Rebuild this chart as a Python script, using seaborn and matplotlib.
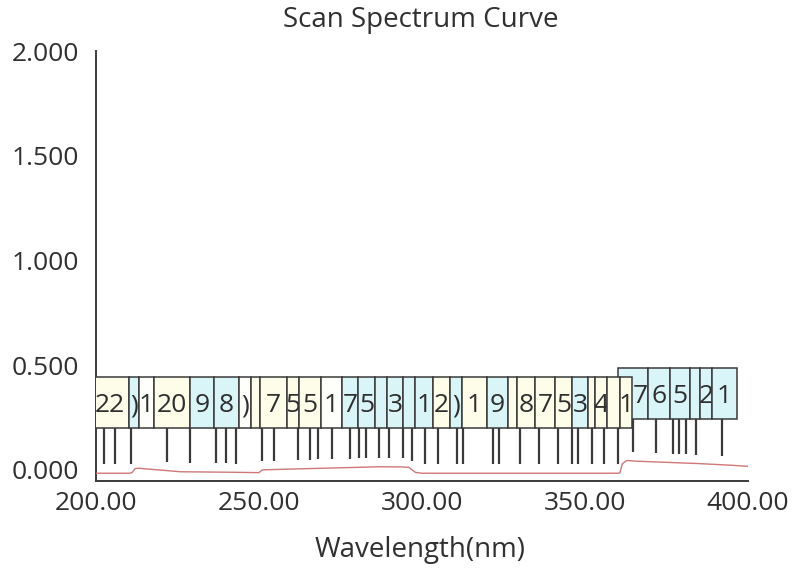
import matplotlib
matplotlib.use("Agg")
import matplotlib.pyplot as plt
import seaborn as sns
import pandas as pd
import numpy as np

# ---------------- data ----------------
wavelength = [200, 205, 210, 211, 212, 213, 216, 226, 240, 249, 250, 251, 260, 270,
              280, 287, 294, 296, 298, 300, 310, 320, 330, 340, 350, 360, 360.7,
              361.5, 362.9, 365, 370, 375, 380, 385, 390, 395, 400]
absorbance = [-0.016, -0.016, -0.016, -0.014, 0.006, 0.008, 0.004, -0.009, -0.011,
              -0.013, -0.013, 0.0, 0.004, 0.008, 0.012, 0.015, 0.014, 0.012, -0.012,
              -0.016, -0.016, -0.016, -0.016, -0.016, -0.016, -0.016, -0.015,
              0.030, 0.045, 0.042, 0.039, 0.036, 0.033, 0.030, 0.026, 0.022, 0.017]

peak_nm = [202.5, 205.8, 210.7, 221.9, 228.8, 236.8, 239.8, 242.9, 251.0, 254.7,
           261.9, 265.6, 268.0, 272.5, 277.9, 280.8, 282.9, 286.9, 289.9, 294.3,
           297.0, 300.9, 305.0, 310.6, 312.5, 321.7, 323.7, 330.1, 336.0, 341.6,
           346.1, 347.9, 352.1, 355.9, 360.0, 364.8, 371.8, 377.1, 378.9, 381.0,
           384.0, 391.9]
peak_abs = [-0.016, -0.016, -0.016, -0.005, -0.009, -0.011, -0.011, -0.012, 0.0, 0.002,
            0.005, 0.007, 0.008, 0.010, 0.012, 0.013, 0.013, 0.015, 0.015, 0.014,
            0.0, -0.016, -0.016, -0.016, -0.016, -0.016, -0.016, -0.016, -0.016, -0.016,
            -0.016, -0.016, -0.016, -0.016, -0.016, 0.042, 0.038, 0.035, 0.034, 0.033,
            0.031, 0.025]

# label boxes (visible parts): text, left/right edge in nm, colour key, row
box_text = ["22", ")", "1", "20", "9", "8", ")", "", "7", "5", "5", "1", "7", "5", "",
            "3", "", "1",
            "2", ")", "1", "9", "", "8", "7", "5", "3", "", "4", "", "1",
            "7", "6", "5", "", "2", "1"]
box_left = [198.2, 210.1, 213.2, 217.8, 228.8, 236.2, 243.9, 247.5, 250.3, 258.6, 262.3,
            269.0, 275.5, 280.4, 285.6, 289.3, 294.2, 297.9,
            303.4, 308.6, 312.3, 319.9, 326.4, 329.1, 334.7, 340.8, 346.0, 350.9,
            353.1, 356.7, 360.7,
            360.1, 369.3, 376.1, 382.2, 385.3, 389.0]
box_right = [210.1, 213.2, 217.8, 228.8, 236.2, 243.9, 247.5, 250.3, 258.6, 262.3, 269.0,
             275.5, 280.4, 285.6, 289.3, 294.2, 297.9, 303.4,
             308.6, 312.3, 319.9, 326.4, 329.1, 334.7, 340.8, 346.0, 350.9, 353.1,
             356.7, 360.7, 364.4,
             369.3, 376.1, 382.2, 385.3, 389.0, 396.6]
box_color = ["y", "c", "w", "y", "c", "c", "w", "y", "y", "y", "y", "w", "c", "c", "c",
             "c", "c", "c",
             "y", "c", "y", "c", "y", "y", "y", "y", "c", "y", "y", "y", "y",
             "c", "c", "c", "c", "c", "c"]
box_row = [0] * 31 + [1] * 6

x_ticks = [200, 250, 300, 350, 400]
y_ticks = [0.0, 0.5, 1.0, 1.5, 2.0]

# ---------------- style ----------------
sns.set_theme(style="white")
plt.rcParams["font.family"] = ["Open Sans", "DejaVu Sans"]
dark = "#3a3a3a"
txt = "#303030"
palette = {"y": "#fdfde9", "c": "#d9f5f7", "w": "#fefefa"}

fig = plt.figure(figsize=(7.99, 5.68), dpi=100)
ax = fig.add_axes([0.1201, 0.1532, 0.816, 0.757])

df = pd.DataFrame({"Wavelength": wavelength, "Abs": absorbance})
sns.lineplot(data=df, x="Wavelength", y="Abs", ax=ax, color="#d07878",
             linewidth=1.0, zorder=3)

# leader lines
row_of_peak = [0 if p < 362 else 1 for p in peak_nm]
row_bottom = {0: 0.20, 1: 0.243}
row_height = {0: 0.244, 1: 0.244}
line_bottoms = [a + 0.042 for a in peak_abs]
line_tops = [row_bottom[r] + 0.01 for r in row_of_peak]
ax.vlines(peak_nm, line_bottoms, line_tops, color=dark, linewidth=1.6, zorder=4)

# label boxes: upper row first so that the lower row overlaps it
row0_right = max(box_right[i] for i in range(len(box_text)) if box_row[i] == 0)
order = [i for i in range(len(box_text)) if box_row[i] == 1] + \
        [i for i in range(len(box_text)) if box_row[i] == 0]
z = 5
for i in order:
    r = box_row[i]
    w = box_right[i] - box_left[i]
    b = row_bottom[r]
    h = row_height[r]
    bars = ax.bar(box_left[i], h, width=w, bottom=b, align="edge",
                  color=palette[box_color[i]], edgecolor=dark, linewidth=1.1,
                  zorder=z)
    patch = bars.patches[0]
    vis_left = max(box_left[i], row0_right) if r == 1 else box_left[i]
    t = ax.text((vis_left + box_right[i]) / 2, b + h * 0.44, box_text[i],
                ha="center", va="center", fontsize=19, color="#2e2e2e",
                zorder=z + 1)
    t.set_clip_path(patch)
    z += 2

ax.set_xlim(200, 400)
ax.set_ylim(-0.053, 2.0)
ax.set_xticks(x_ticks)
ax.set_xticklabels([f"{v:.2f}" for v in x_ticks])
ax.set_yticks(y_ticks)
ax.set_yticklabels([f"{v:.3f}" for v in y_ticks])
ax.tick_params(axis="both", direction="in", length=12, width=1.4, color=dark,
               labelsize=19, labelcolor=txt)
ax.tick_params(axis="x", pad=7)
ax.tick_params(axis="y", pad=12)

for s in ["top", "right"]:
    ax.spines[s].set_visible(False)
for s in ["left", "bottom"]:
    ax.spines[s].set_color(dark)
    ax.spines[s].set_linewidth(1.4)

ax.set_xlabel("")
ax.set_ylabel("")
fig.text(420 / 799, 1 - 550 / 568, "Wavelength(nm)", ha="center", va="center",
         fontsize=20, color=txt)
fig.text(421 / 799, 1 - 20 / 568, "Scan Spectrum Curve", ha="center", va="center",
         fontsize=20, color=txt)

fig.savefig("out.png", dpi=100)
